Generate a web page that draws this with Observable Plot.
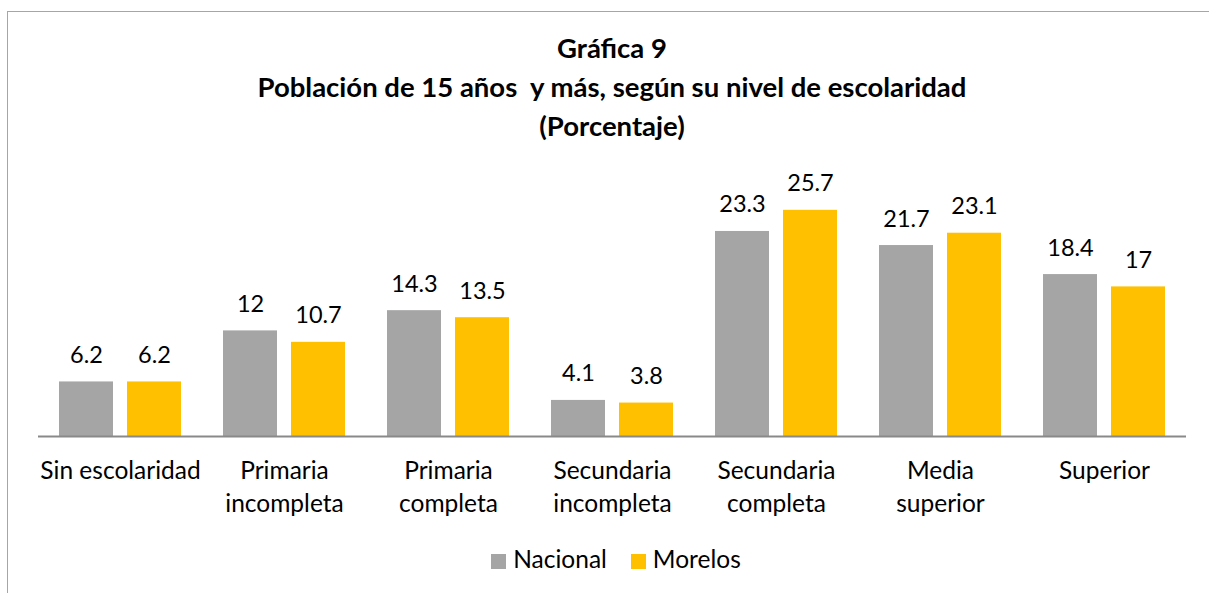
<!DOCTYPE html>
<html>
<head>
<meta charset="utf-8">
<script src="https://cdn.jsdelivr.net/npm/d3@7"></script>
<script src="https://cdn.jsdelivr.net/npm/@observablehq/plot@0.6"></script>
<style>
  html, body { margin: 0; padding: 0; background: #fff; }
  #wrap { position: relative; width: 1209px; height: 593px; overflow: hidden; font-family: Lato, "Open Sans", sans-serif; color: #000; }
  #frame { position: absolute; left: 7px; top: 11px; width: 1300px; height: 700px; border-left: 1px solid #a6a6a6; border-top: 1px solid #a6a6a6; }
  #title { position: absolute; left: 0; top: 28px; width: 1224px; text-align: center; font-weight: bold; font-size: 27.5px; line-height: 39px; }
  #chart { position: absolute; left: 0; top: 0; }
  #legend { position: absolute; left: 0; top: 543px; width: 1232px; text-align: center; font-size: 24.5px; line-height: 32px; }
  #legend span.item { display: inline-block; margin: 0 12px; }
  #legend span.sw { display: inline-block; width: 15px; height: 15px; margin-right: 7px; vertical-align: -1px; }
</style>
</head>
<body>
<div id="wrap">
  <div id="frame"></div>
  <div id="chart"></div>
  <div id="title">Gráfica 9<br>Población de 15 años&nbsp; y más, según su nivel de escolaridad<br>(Porcentaje)</div>
  <div id="legend"></div>
</div>
<script>
const categories = ["Sin escolaridad", "Primaria incompleta", "Primaria completa", "Secundaria incompleta", "Secundaria completa", "Media superior", "Superior"];
const tickLabels = ["Sin escolaridad", "Primaria\nincompleta", "Primaria\ncompleta", "Secundaria\nincompleta", "Secundaria\ncompleta", "Media\nsuperior", "Superior"];
const series = ["Nacional", "Morelos"];
const nacional = [6.2, 12, 14.3, 4.1, 23.3, 21.7, 18.4];
const morelos = [6.2, 10.7, 13.5, 3.8, 25.7, 23.1, 17];
const colors = ["#A5A5A5", "#FFC000"];

const data = categories.flatMap((c, i) => [
  {cat: c, serie: series[0], value: nacional[i]},
  {cat: c, serie: series[1], value: morelos[i]}
]);
const labelOf = new Map(categories.map((c, i) => [c, tickLabels[i]]));

const chart = Plot.plot({
  width: 1209,
  height: 593,
  marginLeft: 35,
  marginRight: 21,
  marginTop: 172,
  marginBottom: 157,
  style: {fontFamily: "Lato, 'Open Sans', sans-serif", background: "transparent"},
  fx: {domain: categories, padding: 0, label: null},
  x: {domain: series, paddingInner: 0.21, paddingOuter: 0.3, axis: null},
  y: {domain: [0, 30], axis: null},
  color: {domain: series, range: colors},
  marks: [
    Plot.barY(data, {fx: "cat", x: "serie", y: "value", fill: "serie"}),
    Plot.text(data, {fx: "cat", x: "serie", y: "value", text: d => String(d.value), lineAnchor: "bottom", dy: -19, fontSize: 23.5, fill: "#000"}),
    Plot.ruleY([0], {stroke: "#898989", strokeWidth: 2}),
    Plot.axisFx({anchor: "bottom", tickSize: 0, tickPadding: 19, fontSize: 24.5, lineHeight: 1.35, tickFormat: d => labelOf.get(d), label: null, fill: "#000"})
  ]
});
document.getElementById("chart").appendChild(chart);

const legend = document.getElementById("legend");
series.forEach((s, i) => {
  const item = document.createElement("span");
  item.className = "item";
  const sw = document.createElement("span");
  sw.className = "sw";
  sw.style.background = colors[i];
  item.appendChild(sw);
  item.appendChild(document.createTextNode(s));
  legend.appendChild(item);
});
</script>
</body>
</html>
